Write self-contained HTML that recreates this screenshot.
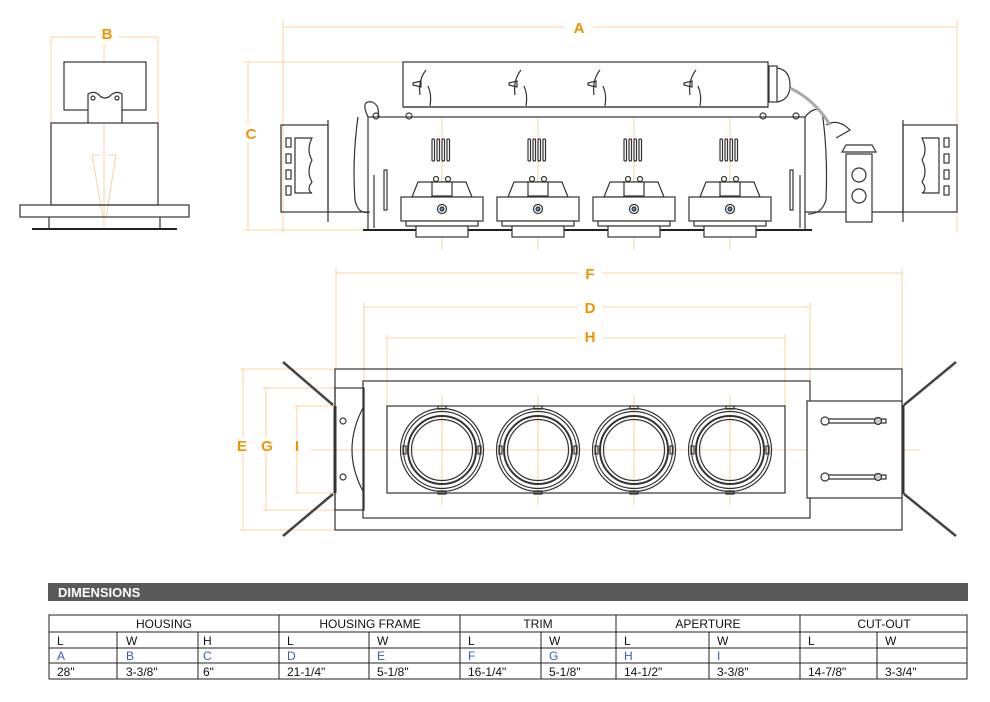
<!DOCTYPE html>
<html><head><style>
body{margin:0;background:#fff;}
svg{display:block;font-family:"Liberation Sans",sans-serif;}
.o{stroke:#f7c98a;stroke-width:.8;fill:none}
.l{fill:#f39200;font-size:15px;text-anchor:middle;font-weight:bold}
.k{stroke:#333;stroke-width:1.2;fill:#fff}
.kn{stroke:#333;stroke-width:1.2;fill:none}
.t{font-size:12px;fill:#111}
.b{font-size:12px;fill:#2f5fc4}
</style></head><body>
<svg width="990" height="702" viewBox="0 0 990 702">
<!-- orange guides -->
<g class="o">
<line x1="283" y1="27" x2="957" y2="27"/><line x1="283" y1="20" x2="283" y2="232"/><line x1="957" y1="20" x2="957" y2="232"/>
<line x1="248" y1="62" x2="248" y2="230"/><line x1="244" y1="62" x2="403" y2="62"/><line x1="244" y1="230" x2="370" y2="230"/>
<line x1="51" y1="37" x2="158" y2="37"/><line x1="51" y1="37" x2="51" y2="123"/><line x1="158" y1="37" x2="158" y2="123"/><line x1="104" y1="40" x2="104" y2="230"/>
<line x1="92" y1="155" x2="100" y2="155"/><line x1="92" y1="155" x2="103" y2="218"/><line x1="116" y1="155" x2="106" y2="218"/><line x1="108" y1="155" x2="116" y2="155"/>
<line x1="336" y1="273" x2="902" y2="273"/><line x1="336" y1="268" x2="336" y2="369"/><line x1="902" y1="268" x2="902" y2="369"/>
<line x1="364" y1="307" x2="810" y2="307"/><line x1="364" y1="302" x2="364" y2="381"/><line x1="810" y1="302" x2="810" y2="381"/>
<line x1="387" y1="338" x2="785" y2="338"/><line x1="387" y1="334" x2="387" y2="406"/><line x1="785" y1="334" x2="785" y2="406"/>
<line x1="243" y1="369" x2="243" y2="530"/><line x1="240" y1="369" x2="336" y2="369"/><line x1="240" y1="530" x2="336" y2="530"/>
<line x1="266" y1="388" x2="266" y2="510"/><line x1="263" y1="388" x2="336" y2="388"/><line x1="263" y1="510" x2="336" y2="510"/>
<line x1="297" y1="406" x2="297" y2="493"/><line x1="294" y1="406" x2="336" y2="406"/><line x1="294" y1="493" x2="336" y2="493"/>
<line x1="310" y1="450" x2="920" y2="450"/>
<line x1="442" y1="118" x2="442" y2="250"/><line x1="538" y1="118" x2="538" y2="250"/><line x1="634" y1="118" x2="634" y2="250"/><line x1="730" y1="118" x2="730" y2="250"/>
<line x1="442" y1="395" x2="442" y2="505"/><line x1="538" y1="395" x2="538" y2="505"/><line x1="634" y1="395" x2="634" y2="505"/><line x1="730" y1="395" x2="730" y2="505"/>
</g>
<g>
<rect x="565" y="19" width="28" height="16" fill="#fff"/><text class="l" x="579" y="33">A</text>
<rect x="96" y="28" width="22" height="16" fill="#fff"/><text class="l" x="107" y="39">B</text>
<rect x="240" y="124" width="20" height="18" fill="#fff"/><text class="l" x="251" y="139">C</text>
<rect x="578" y="265" width="24" height="16" fill="#fff"/><text class="l" x="590" y="279">F</text>
<rect x="578" y="299" width="24" height="16" fill="#fff"/><text class="l" x="590" y="313">D</text>
<rect x="578" y="329" width="24" height="16" fill="#fff"/><text class="l" x="590" y="342">H</text>
<rect x="234" y="437" width="18" height="16" fill="#fff"/><text class="l" x="242" y="451">E</text>
<rect x="258" y="437" width="18" height="16" fill="#fff"/><text class="l" x="267" y="451">G</text>
<rect x="290" y="437" width="14" height="16" fill="#fff"/><text class="l" x="297" y="451">I</text>
</g>
<!-- left side view -->
<g class="k">
<rect x="64" y="62" width="82" height="48"/>
<path d="M88 123 V94 Q95 90 100 96 Q105 100 110 96 Q116 90 122 94 V123"/>
<rect x="51" y="123" width="107" height="82" fill="none"/>
<rect x="20" y="205" width="169" height="12" fill="none"/>
<line x1="49" y1="217" x2="49" y2="229"/><line x1="160" y1="217" x2="160" y2="229"/>
</g>
<line x1="32" y1="229" x2="177" y2="229" stroke="#222" stroke-width="2"/>
<circle cx="93" cy="98" r="2" class="kn"/><circle cx="117" cy="98" r="2" class="kn"/>
<!-- side elevation -->
<g class="k">
<rect x="403" y="62" width="365" height="45" fill="none"/>
<line x1="403" y1="107" x2="768" y2="107"/>
<rect x="368" y="117" width="437" height="113" fill="none"/>
<rect x="281" y="125" width="47" height="87" fill="none"/>
<line x1="328" y1="120" x2="328" y2="222"/>
<line x1="328" y1="212" x2="368" y2="212"/>
<rect x="286" y="138" width="5" height="9"/><rect x="286" y="154" width="5" height="9"/><rect x="286" y="170" width="5" height="9"/><rect x="286" y="186" width="5" height="9"/>
<path d="M295 138 H312 Q306 150 312 160 Q306 172 312 182 Q306 190 312 193 H295 Z"/>
<rect x="903" y="125" width="54" height="87" fill="none"/>
<line x1="903" y1="120" x2="903" y2="222"/>
<line x1="805" y1="212" x2="903" y2="212"/>
<rect x="944" y="138" width="5" height="9"/><rect x="944" y="154" width="5" height="9"/><rect x="944" y="170" width="5" height="9"/><rect x="944" y="186" width="5" height="9"/>
<path d="M939 138 H922 Q928 150 922 160 Q928 172 922 182 Q928 190 922 193 H939 Z"/>
<rect x="846" y="154" width="26" height="68"/>
<circle cx="859" cy="175" r="7"/><circle cx="859" cy="196" r="7"/>
<path d="M842 152 L846 145 H872 L876 152 Z"/>
<path d="M826 125 Q838 118 850 130 L836 138" fill="none"/>
<path d="M358 117 Q352 160 355 200 Q358 215 370 212" fill="none"/>
<path d="M368 117 Q360 100 372 102 Q380 105 378 117" fill="none"/>
<path d="M805 117 Q815 105 822 112 Q828 150 826 200 Q822 214 808 214" fill="none"/>
<rect x="769" y="66" width="8" height="36"/>
<path d="M777 68 Q790 70 790 85 Q790 100 777 102" fill="none"/>
<path d="M790 88 Q815 100 830 125" stroke="#aaa" stroke-width="3" fill="none"/>
<rect x="384" y="170" width="3" height="40"/><rect x="790" y="170" width="3" height="40"/>
<line x1="374" y1="175" x2="374" y2="228"/><line x1="800" y1="175" x2="800" y2="228"/>
</g>
<line x1="363" y1="230" x2="812" y2="230" stroke="#222" stroke-width="2"/>
<g class="kn">
<path d="M420 95 Q418 80 426 70"/><path d="M515 95 Q513 80 521 70"/><path d="M594 95 Q592 80 600 70"/><path d="M690 95 Q688 80 696 70"/>
<path d="M430 106 Q432 95 428 86"/><path d="M526 106 Q528 95 524 86"/><path d="M605 106 Q607 95 603 86"/><path d="M700 106 Q702 95 698 86"/>
<path d="M413 83 L421 81 V87 L413 85 Z"/><path d="M509 83 L517 81 V87 L509 85 Z"/><path d="M588 83 L596 81 V87 L588 85 Z"/><path d="M684 83 L692 81 V87 L684 85 Z"/>
<circle cx="376" cy="116" r="3"/><circle cx="409" cy="116" r="3"/><circle cx="763" cy="116" r="3"/><circle cx="796" cy="116" r="3"/>
</g>
<!-- lamp units side -->
<g class="k">
<g id="u">
<rect x="432" y="139" width="2.5" height="22" rx="1"/><rect x="437" y="139" width="2.5" height="22" rx="1"/><rect x="442" y="139" width="2.5" height="22" rx="1"/><rect x="447" y="139" width="2.5" height="22" rx="1"/>
<path d="M412 197 L418 182 H466 L472 197 Z"/>
<rect x="432" y="182" width="20" height="14"/>
<circle cx="436" cy="179" r="2.5"/><circle cx="448" cy="179" r="2.5"/>
<rect x="401" y="197" width="82" height="24"/>
<rect x="406" y="221" width="72" height="5"/>
<rect x="416" y="226" width="52" height="11"/>
<circle cx="442" cy="209" r="4.5"/><circle cx="442" cy="209" r="2" fill="#5a8fd0"/>
</g>
<use href="#u" x="96"/><use href="#u" x="192"/><use href="#u" x="288"/>
</g>
<!-- plan view -->
<g class="k" fill="none">
<rect x="335" y="369" width="567" height="161" fill="none"/>
<rect x="363" y="381" width="447" height="137" fill="none"/>
<rect x="387" y="406" width="398" height="87" fill="none"/>
<rect x="335" y="388" width="29" height="122" fill="none"/>
<path d="M364 406 Q340 450 364 493" fill="none"/>
<rect x="807" y="401" width="95" height="97" fill="#fff"/>
</g>
<line x1="335" y1="406" x2="335" y2="493" stroke="#333" stroke-width="3"/>
<line x1="903" y1="405" x2="903" y2="494" stroke="#333" stroke-width="3"/>
<g stroke="#444" stroke-width="2.5">
<line x1="283" y1="362" x2="333" y2="405"/><line x1="333" y1="494" x2="283" y2="536"/>
<line x1="904" y1="405" x2="956" y2="362"/><line x1="904" y1="494" x2="956" y2="536"/>
</g>
<g class="kn">
<circle cx="343" cy="421" r="3"/><circle cx="343" cy="477" r="3"/>
<path d="M828 419 H886 V423 H828"/><circle cx="825" cy="421" r="4" fill="#fff"/><circle cx="878" cy="421" r="3.5" fill="#ccc"/>
<path d="M828 475 H886 V479 H828"/><circle cx="825" cy="477" r="4" fill="#fff"/><circle cx="878" cy="477" r="3.5" fill="#ccc"/>
</g>
<g class="kn" id="p">
<circle cx="442" cy="450" r="41.5"/><circle cx="442" cy="450" r="38.5"/><circle cx="442" cy="450" r="34" stroke-width="2"/><circle cx="442" cy="450" r="30.5"/>
<rect x="438" y="406" width="8" height="3"/><rect x="438" y="491" width="8" height="3"/>
<rect x="403" y="446" width="3" height="8"/><rect x="478" y="446" width="3" height="8"/>
</g>
<use href="#p" x="96"/><use href="#p" x="192"/><use href="#p" x="288"/>
<!-- table -->
<rect x="48" y="583" width="920" height="18" fill="#58595b"/>
<text x="58" y="597" fill="#fff" font-weight="bold" font-size="13">DIMENSIONS</text>
<g stroke="#222" stroke-width="1" fill="none">
<rect x="49" y="615" width="918" height="64"/>
<line x1="49" y1="632" x2="967" y2="632"/><line x1="49" y1="648" x2="967" y2="648"/><line x1="49" y1="663" x2="967" y2="663"/>
<line x1="279" y1="615" x2="279" y2="679"/><line x1="460" y1="615" x2="460" y2="679"/><line x1="616" y1="615" x2="616" y2="679"/><line x1="800" y1="615" x2="800" y2="679"/>
<line x1="117" y1="632" x2="117" y2="679"/><line x1="198" y1="632" x2="198" y2="679"/><line x1="369" y1="632" x2="369" y2="679"/><line x1="541" y1="632" x2="541" y2="679"/><line x1="709" y1="632" x2="709" y2="679"/><line x1="877" y1="632" x2="877" y2="679"/>
</g>
<g class="t" text-anchor="middle">
<text x="164" y="628">HOUSING</text><text x="370" y="628">HOUSING FRAME</text><text x="538" y="628">TRIM</text><text x="708" y="628">APERTURE</text><text x="884" y="628">CUT-OUT</text>
</g>
<g class="t">
<text x="57" y="645">L</text><text x="126" y="645">W</text><text x="203" y="645">H</text><text x="287" y="645">L</text><text x="377" y="645">W</text><text x="468" y="645">L</text><text x="549" y="645">W</text><text x="624" y="645">L</text><text x="717" y="645">W</text><text x="808" y="645">L</text><text x="885" y="645">W</text>
<text x="57" y="676">28"</text><text x="126" y="676">3-3/8"</text><text x="203" y="676">6"</text><text x="287" y="676">21-1/4"</text><text x="377" y="676">5-1/8"</text><text x="468" y="676">16-1/4"</text><text x="549" y="676">5-1/8"</text><text x="624" y="676">14-1/2"</text><text x="717" y="676">3-3/8"</text><text x="808" y="676">14-7/8"</text><text x="885" y="676">3-3/4"</text>
</g>
<g class="b">
<text x="57" y="660">A</text><text x="126" y="660">B</text><text x="203" y="660">C</text><text x="287" y="660">D</text><text x="377" y="660">E</text><text x="468" y="660">F</text><text x="549" y="660">G</text><text x="624" y="660">H</text><text x="717" y="660">I</text>
</g>
</svg>
</body></html>
